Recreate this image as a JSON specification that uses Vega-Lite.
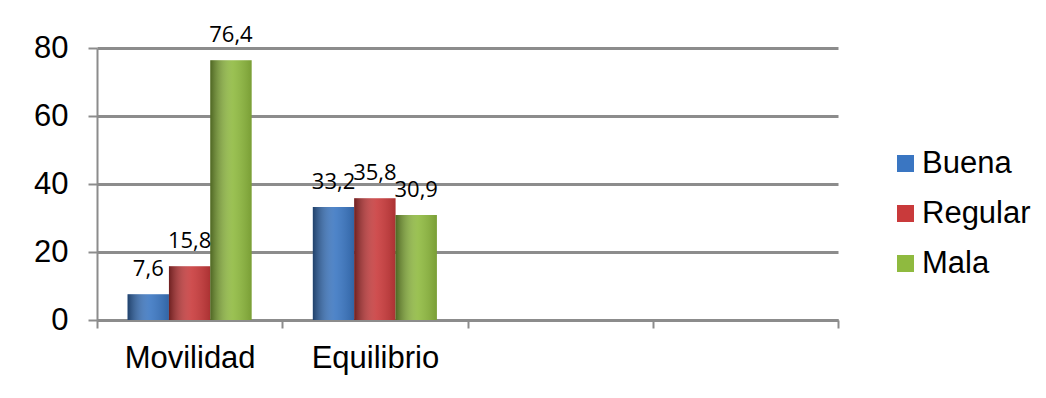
{
  "$schema": "https://vega.github.io/schema/vega-lite/v6.json",
  "autosize": "none",
  "width": 741,
  "height": 272,
  "padding": {"left": 97, "top": 48, "right": 208, "bottom": 78},
  "background": "white",
  "config": {
    "locale": {"number": {"decimal": ",", "thousands": ".", "grouping": [3], "currency": ["", " €"]}},
    "view": {"stroke": null},
    "font": "Liberation Sans"
  },
  "data": {
    "values": [
      {"Prueba": "Movilidad", "Calidad": "Buena", "Valor": 7.6},
      {"Prueba": "Movilidad", "Calidad": "Regular", "Valor": 15.8},
      {"Prueba": "Movilidad", "Calidad": "Mala", "Valor": 76.4},
      {"Prueba": "Equilibrio", "Calidad": "Buena", "Valor": 33.2},
      {"Prueba": "Equilibrio", "Calidad": "Regular", "Valor": 35.8},
      {"Prueba": "Equilibrio", "Calidad": "Mala", "Valor": 30.9}
    ]
  },
  "encoding": {
    "x": {
      "field": "Prueba",
      "type": "nominal",
      "scale": {"domain": ["Movilidad", "Equilibrio", "_3", "_4"], "paddingInner": 0, "paddingOuter": 0},
      "axis": {
        "title": null,
        "labelAngle": 0,
        "labelExpr": "indexof(['_3','_4'], datum.value) >= 0 ? '' : datum.label",
        "labelFont": "Liberation Sans",
        "labelFontSize": 31,
        "labelColor": "black",
        "labelPadding": 15,
        "tickBand": "extent",
        "tickSize": 8,
        "tickColor": "#8c8c8c",
        "tickWidth": 2,
        "domainColor": "#8c8c8c",
        "domainWidth": 3,
        "grid": false
      }
    },
    "xOffset": {
      "field": "Calidad",
      "type": "nominal",
      "sort": ["Buena", "Regular", "Mala"],
      "scale": {"paddingInner": 0, "paddingOuter": 0.74}
    },
    "y": {
      "field": "Valor",
      "type": "quantitative",
      "scale": {"domain": [0, 80], "nice": false},
      "axis": {
        "title": null,
        "values": [0, 20, 40, 60, 80],
        "labelFont": "Liberation Sans",
        "labelFontSize": 31,
        "labelColor": "black",
        "labelPadding": 20,
        "tickSize": 9,
        "tickColor": "#8c8c8c",
        "tickWidth": 2,
        "domainColor": "#8c8c8c",
        "domainWidth": 2,
        "gridColor": "#8c8c8c",
        "gridWidth": 3,
        "gridOpacity": 1
      }
    }
  },
  "layer": [
    {
      "mark": {"type": "bar", "cornerRadius": 0},
      "encoding": {
        "color": {
          "field": "Calidad",
          "type": "nominal",
          "sort": ["Buena", "Regular", "Mala"],
          "scale": {"domain": ["Buena", "Regular", "Mala"], "range": ["#3a76c2", "#c93a3b", "#8fba3f"]},
          "legend": {
            "title": null,
            "orient": "none",
            "legendX": 793,
            "legendY": 100,
            "symbolType": "square",
            "symbolSize": 289,
            "symbolStrokeWidth": 0,
            "labelFont": "Liberation Sans",
            "labelFontSize": 31,
            "labelColor": "black",
            "labelOffset": 1,
            "rowPadding": 18
          }
        }
      }
    },
    {
      "mark": {
        "type": "bar",
        "fill": {
          "gradient": "linear",
          "x1": 0, "x2": 1, "y1": 0, "y2": 0,
          "stops": [
            {"offset": 0, "color": "rgba(0,0,0,0.45)"},
            {"offset": 0.55, "color": "rgba(255,255,255,0.1)"},
            {"offset": 1, "color": "rgba(0,0,0,0.15)"}
          ]
        }
      }
    },
    {
      "mark": {"type": "text", "baseline": "alphabetic", "dy": -18, "font": "Open Sans", "fontSize": 22, "color": "black"},
      "encoding": {
        "text": {"field": "Valor", "type": "quantitative", "format": ".1f"}
      }
    }
  ]
}
